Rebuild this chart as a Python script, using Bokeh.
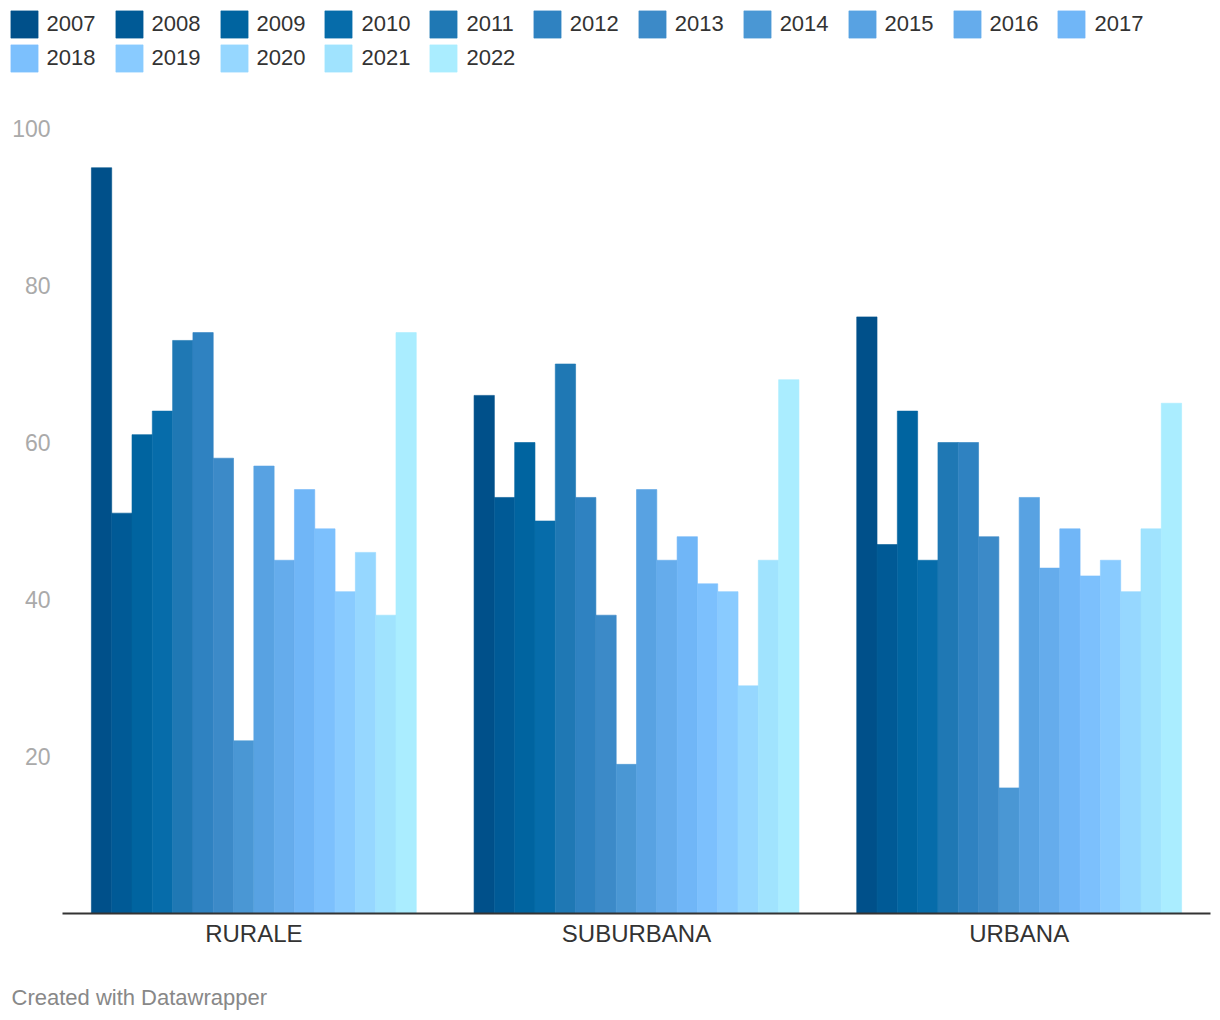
from bokeh.plotting import figure
from bokeh.models import (Range1d, FixedTicker, Legend, LegendItem, Label,
                          ColumnDataSource)
from bokeh.transform import dodge
from bokeh.embed import file_html
from bokeh.resources import INLINE

# ---------------- data ----------------
categories = ["RURALE", "SUBURBANA", "URBANA"]
years = ["2007", "2008", "2009", "2010", "2011", "2012", "2013", "2014",
         "2015", "2016", "2017", "2018", "2019", "2020", "2021", "2022"]
rurale = [95, 51, 61, 64, 73, 74, 58, 22, 57, 45, 54, 49, 41, 46, 38, 74]
suburbana = [66, 53, 60, 50, 70, 53, 38, 19, 54, 45, 48, 42, 41, 29, 45, 68]
urbana = [76, 47, 64, 45, 60, 60, 48, 16, 53, 44, 49, 43, 45, 41, 49, 65]
y_ticks = [20, 40, 60, 80, 100]
colors = ["#00508a", "#005a96", "#0064a0", "#066caa", "#1f78b4", "#2f82c1",
          "#3c8ac8", "#4a97d4", "#58a2e2", "#65acec", "#70b6f7", "#7cc0fd",
          "#89cbff", "#96d7ff", "#a0e3fe", "#aaedff"]

FONT = "Liberation Sans"

# ---------------- layout constants (pixels) ----------------
W, H = 1212, 1012
PLOT_L, PLOT_R = 62, 1210          # plot area left / right
PLOT_T, PLOT_B = 128, 913          # y=100 / y=0
n_cat = len(categories)
unit_x = (PLOT_R - PLOT_L) / n_cat  # px per category
unit_y = (PLOT_B - PLOT_T) / 100.0  # px per value unit

x_start = 0.5 - PLOT_L / unit_x
x_end = n_cat + 0.5 + (W - PLOT_R) / unit_x
y_start = -(H - PLOT_B) / unit_y
y_end = 100 + PLOT_T / unit_y

pos = list(range(1, n_cat + 1))     # category centres on the numeric axis
data = {"pos": pos, "cat": categories}
for i, yr in enumerate(years):
    data[yr] = [rurale[i], suburbana[i], urbana[i]]
src = ColumnDataSource(data)

p = figure(width=W, height=H, x_range=Range1d(x_start, x_end),
           y_range=Range1d(y_start, y_end), output_backend="svg",
           toolbar_location=None, min_border=0)

group_w = 0.849
bw = group_w / len(years)
renderers = []
for i, yr in enumerate(years):
    r = p.vbar(x=dodge("pos", (i - (len(years) - 1) / 2) * bw), top=yr,
               bottom=0, width=bw, source=src, fill_color=colors[i],
               line_color=colors[i], line_width=0.6)
    renderers.append(r)

p.xgrid.visible = False
p.ygrid.visible = False
p.outline_line_color = None
p.background_fill_color = "white"
p.border_fill_color = "white"

# y axis, drawn at the left edge of the bar area
p.yaxis.fixed_location = 0.5
p.yaxis.ticker = FixedTicker(ticks=y_ticks)
p.yaxis.axis_line_color = None
p.yaxis.major_tick_line_color = None
p.yaxis.minor_tick_line_color = None
p.yaxis.major_label_text_color = "#aaaaaa"
p.yaxis.major_label_text_font_size = "23px"
p.yaxis.major_label_text_font = FONT
p.yaxis.major_label_standoff = 6

# x axis (categories) along y = 0
p.xaxis.fixed_location = 0
p.xaxis.bounds = (0.5, n_cat + 0.5)
p.xaxis.ticker = FixedTicker(ticks=pos)
p.xaxis.major_label_overrides = {k: c for k, c in zip(pos, categories)}
p.xaxis.axis_line_color = "#333333"
p.xaxis.axis_line_width = 2
p.xaxis.major_tick_line_color = None
p.xaxis.minor_tick_line_color = None
p.xaxis.major_label_text_color = "#333333"
p.xaxis.major_label_text_font_size = "24px"
p.xaxis.major_label_text_font = FONT
p.xaxis.major_label_standoff = 0

# ---------------- legend (two rows at the top) ----------------
items = [LegendItem(label=yr, renderers=[r]) for yr, r in zip(years, renderers)]
common = dict(orientation="horizontal", glyph_width=34, glyph_height=34,
              label_standoff=6, spacing=16, padding=0, margin=0,
              border_line_color=None, background_fill_alpha=0,
              label_text_font_size="22px", label_text_color="#333333",
              label_text_font=FONT, label_height=34)
p.add_layout(Legend(items=items[:11], location=(6.6, H - 41), **common))
p.add_layout(Legend(items=items[11:], location=(6.6, H - 75), **common))

# ---------------- footer ----------------
p.add_layout(Label(text="Created with Datawrapper",
                   x=0.5 + (11 - PLOT_L) / unit_x,
                   y=-(997 - PLOT_B) / unit_y,
                   text_font_size="22px", text_color="#888888",
                   text_font=FONT, text_baseline="middle", text_align="left"))

open("out.html", "w").write(file_html(p, INLINE))
